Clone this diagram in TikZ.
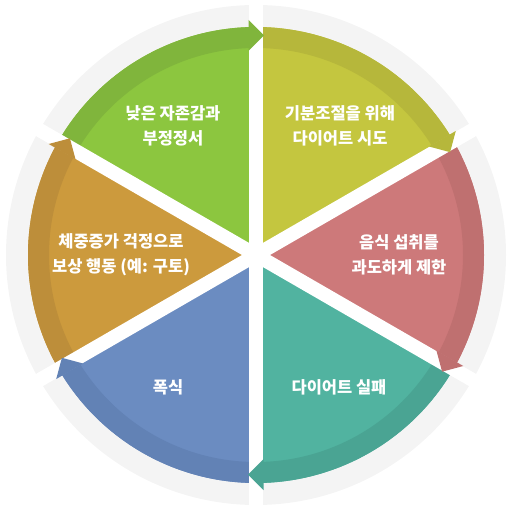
\documentclass[tikz,border=0pt]{standalone}
\usepackage{fontspec}
\newfontfamily\kr{Noto Sans CJK KR}
\definecolor{ringgray}{HTML}{F4F4F4}
\definecolor{cgreen}{HTML}{8CC63F}
\definecolor{bgreen}{HTML}{80B53C}
\definecolor{cyellow}{HTML}{C4C63F}
\definecolor{byellow}{HTML}{B6B73B}
\definecolor{cpink}{HTML}{CD797A}
\definecolor{bpink}{HTML}{BF7070}
\definecolor{cteal}{HTML}{51B3A0}
\definecolor{bteal}{HTML}{4AA493}
\definecolor{cblue}{HTML}{6B8CC1}
\definecolor{bblue}{HTML}{6282B5}
\definecolor{corange}{HTML}{CC9A3D}
\definecolor{borange}{HTML}{BD8E3A}
\tikzset{
  lbl/.style={text=white, font=\kr\bfseries\fontsize{16.5}{25}\selectfont, align=center, inner sep=0pt},
  gapline/.style={draw=white, line width=14pt}
}
\begin{document}
\begin{tikzpicture}[x=1pt,y=1pt]
\useasboundingbox (-256,-258) rectangle (254,255);
\fill[ringgray] (0,0) circle (250);
% sectors: start angle, end angle, light colour, band colour
\foreach \s/\e/\c/\b in {30/90/cyellow/byellow, 90/150/cgreen/bgreen, 150/210/corange/borange, 210/270/cblue/bblue, 270/330/cteal/bteal, -30/30/cpink/bpink}{
  \fill[\c] (0,0) -- (\s:228) arc[start angle=\s, end angle=\e, radius=228] -- cycle;
  \fill[\b] (\s:207) -- (\s:228) arc[start angle=\s, end angle=\e, radius=228] -- (\e:207) arc[start angle=\e, end angle=\s, radius=207] -- cycle;
}
\foreach \t in {30,90,150,210,270,330}{
  \draw[gapline] (0,0) -- (\t:262);
}
% arrow heads at the clockwise end of each band
\foreach \s/\b in {30/byellow, 90/bgreen, 150/borange, 210/bblue, 270/bteal, 330/bpink}{
  \fill[\b, rotate=\s-90] (-7.5,204) -- (-7.5,235) -- (8,219.5) -- cycle;
}
\node[lbl] (green) at (-83,129.5) {낮은 자존감과\\부정정서};
\node[lbl] (yellow) at (84,129.5) {기분조절을 위해\\다이어트 시도};
\node[lbl] (pink) at (143,0) {음식 섭취를\\과도하게 제한};
\node[lbl] (teal) at (83,-132) {다이어트 실패};
\node[lbl] (blue) at (-88,-132) {폭식};
\node[lbl] (orange) at (-135,0) {체중증가 걱정으로\\보상 행동 (예: 구토)};
\end{tikzpicture}
\end{document}
